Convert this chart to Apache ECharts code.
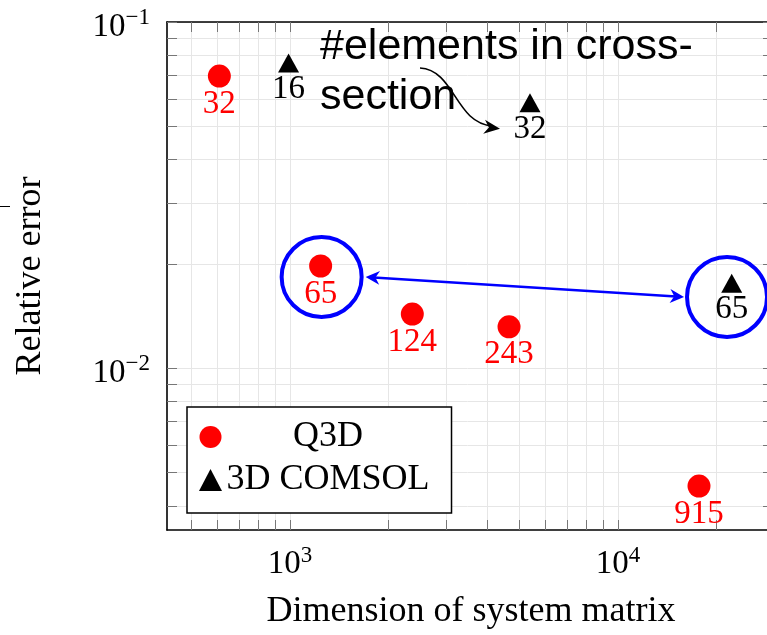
<!DOCTYPE html>
<html><head><meta charset="utf-8">
<script src="https://cdn.jsdelivr.net/npm/echarts@6/dist/echarts.min.js"></script>
<style>html,body{margin:0;padding:0;background:#fff}#c{width:767px;height:635px}</style>
</head><body><div id="c"></div>
<script>
// ---- data ----
const q3dX = [609, 1240, 2360, 4654, 17660];
const q3dY = [0.0698, 0.01972, 0.01432, 0.01316, 0.00456];
const q3dLabels = ['32', '65', '124', '243', '915'];
const comsolX = [990, 5391, 22220];
const comsolY = [0.0761, 0.0584, 0.01758];
const comsolLabels = ['16', '32', '65'];
const xTickValues = [500, 600, 700, 800, 900, 1000, 2000, 3000, 4000, 5000, 6000, 7000, 8000, 9000, 10000, 20000, 30000];
const xLabelValues = [1000, 10000];
const yTickValues = [0.004, 0.005, 0.006, 0.007, 0.008, 0.009, 0.01, 0.02, 0.03, 0.04, 0.05, 0.06, 0.07, 0.08, 0.09, 0.1];
const yLabelValues = [0.01, 0.1];
const seriesNames = ['Q3D', '3D COMSOL'];
const xTitle = 'Dimension of system matrix';
const yTitle = 'Relative error';
const noteLines = ['#elements in cross-', 'section'];
const xRange = [421.7, 30110];
const yRange = [0.003404, 0.1];

const SERIF = '"Liberation Serif", "Times New Roman", serif';
const SANS = '"Liberation Sans", Arial, sans-serif';

function powLabel(v) {
  const e = Math.round(Math.log10(v));
  return '{b|10}{s|' + (e < 0 ? '\u2212' + (-e) : e) + '}';
}
const powRich = {
  b: { fontFamily: SERIF, fontSize: 33, color: '#000', padding: [10, 0, 0, 0] },
  s: { fontFamily: SERIF, fontSize: 23, color: '#000', padding: [0, 0, 8, 0] }
};
const tickStyle = { color: '#777', width: 1 };
const axisLineStyle = { color: '#000', width: 1.6 };

const chart = echarts.init(document.getElementById('c'), null, { renderer: 'canvas' });

const option = {
  backgroundColor: '#fff',
  animation: false,
  grid: { left: 167, top: 22, width: 608, height: 508, containLabel: false, outerBoundsMode: 'none' },
  xAxis: [{
    type: 'log', min: xRange[0], max: xRange[1], position: 'bottom',
    axisLine: { show: true, onZero: false, lineStyle: axisLineStyle },
    axisTick: { show: true, inside: true, length: 10, customValues: xTickValues, lineStyle: tickStyle },
    minorTick: { show: false },
    splitLine: { show: true, lineStyle: { color: '#e6e6e6', width: 1 } },
    axisLabel: { customValues: xLabelValues, formatter: powLabel, rich: powRich, margin: 8 },
    name: xTitle, nameLocation: 'middle', nameGap: 64,
    nameTextStyle: { fontFamily: SERIF, fontSize: 36, color: '#000' }
  }, {
    type: 'log', min: xRange[0], max: xRange[1], position: 'top',
    axisLine: { show: true, onZero: false, lineStyle: axisLineStyle },
    axisTick: { show: true, inside: true, length: 10, customValues: xTickValues, lineStyle: tickStyle },
    splitLine: { show: false }, axisLabel: { show: false }
  }],
  yAxis: [{
    type: 'log', min: yRange[0], max: yRange[1], position: 'left',
    axisLine: { show: true, onZero: false, lineStyle: axisLineStyle },
    axisTick: { show: true, inside: true, length: 10, customValues: yTickValues, lineStyle: tickStyle },
    minorTick: { show: false },
    splitLine: { show: true, lineStyle: { color: '#e6e6e6', width: 1 } },
    axisLabel: { customValues: yLabelValues, formatter: powLabel, rich: powRich, margin: 17 },
    name: yTitle, nameLocation: 'middle', nameGap: 118, nameRotate: 90,
    nameTextStyle: { fontFamily: SERIF, fontSize: 36, color: '#000' }
  }, {
    type: 'log', min: yRange[0], max: yRange[1], position: 'right',
    axisLine: { show: true, onZero: false, lineStyle: axisLineStyle },
    axisTick: { show: true, inside: true, length: 12, customValues: yTickValues, lineStyle: tickStyle },
    splitLine: { show: false }, axisLabel: { show: false }
  }],
  legend: {
    orient: 'vertical', left: 187, top: 407,
    backgroundColor: '#fff', borderColor: '#000', borderWidth: 1.5, borderRadius: 0,
    padding: [12, 22, 15, 12], itemGap: 7, itemWidth: 23, itemHeight: 22,
    data: [{ name: seriesNames[0], icon: 'circle' }, { name: seriesNames[1], icon: 'triangle' }],
    formatter: n => '{t|' + n + '}',
    textStyle: { color: '#000', rich: { t: { width: 202, align: 'center', fontFamily: SERIF, fontSize: 36, lineHeight: 36, color: '#000' } } },
    selectedMode: false
  },
  series: [{
    name: seriesNames[0], type: 'scatter', xAxisIndex: 0, yAxisIndex: 0,
    symbol: 'circle', symbolSize: 23, itemStyle: { color: '#ff0000', opacity: 1 },
    data: q3dX.map((x, i) => [x, q3dY[i]]),
    label: { show: true, position: 'bottom', distance: 0, formatter: p => q3dLabels[p.dataIndex],
      fontFamily: SERIF, fontSize: 33, color: '#ff0000' },
    z: 5
  }, {
    name: seriesNames[1], type: 'scatter', xAxisIndex: 0, yAxisIndex: 0,
    symbol: 'triangle', symbolSize: [21, 19], itemStyle: { color: '#000', opacity: 1 },
    data: comsolX.map((x, i) => [x, comsolY[i]]),
    label: { show: true, position: 'bottom', distance: 0, formatter: p => comsolLabels[p.dataIndex],
      fontFamily: SERIF, fontSize: 33, color: '#000' },
    z: 5
  }]
};
chart.setOption(option);

// ---- annotations anchored on data points ----
const px = (x, y) => chart.convertToPixel({ xAxisIndex: 0, yAxisIndex: 0 }, [x, y]);
const pQ65 = px(q3dX[1], q3dY[1]);
const pC65 = px(comsolX[2], comsolY[2]);
const pC32 = px(comsolX[1], comsolY[1]);
const R = 40;
const cL = [pQ65[0] + 1, pQ65[1] + 11];
const cR = [pC65[0] - 4.7, pC65[1] + 13.7];
const tipL = [cL[0] + R + 4, cL[1]];
const tipR = [cR[0] - R - 3, cR[1]];

function head(tip, dir, len, half, color) {
  const n = Math.hypot(dir[0], dir[1]);
  const d = [dir[0] / n, dir[1] / n];
  const p = [-d[1], d[0]];
  const back = [tip[0] - d[0] * len, tip[1] - d[1] * len];
  const notch = [tip[0] - d[0] * len * 0.7, tip[1] - d[1] * len * 0.7];
  return {
    type: 'polygon', z: 20, silent: true,
    shape: { points: [tip, [back[0] + p[0] * half, back[1] + p[1] * half], notch, [back[0] - p[0] * half, back[1] - p[1] * half]] },
    style: { fill: color, stroke: null }
  };
}

const arrowTip = [pC32[0] - 30, pC32[1] + 26];
const c0 = [420, 68];
const c1 = [455, 70];
const c2 = [455, 123];

const graphics = [
  { type: 'circle', z: 20, silent: true, shape: { cx: cL[0], cy: cL[1], r: R }, style: { fill: null, stroke: '#0000ff', lineWidth: 4 } },
  { type: 'circle', z: 20, silent: true, shape: { cx: cR[0], cy: cR[1], r: R }, style: { fill: null, stroke: '#0000ff', lineWidth: 4 } },
  { type: 'line', z: 20, silent: true,
    shape: { x1: tipL[0] + 8, y1: tipL[1] + 0.5, x2: tipR[0] - 8, y2: tipR[1] - 0.5 },
    style: { stroke: '#0000ff', lineWidth: 2.5 } },
  head(tipL, [tipL[0] - tipR[0], tipL[1] - tipR[1]], 14, 7, '#0000ff'),
  head(tipR, [tipR[0] - tipL[0], tipR[1] - tipL[1]], 14, 7, '#0000ff'),
  { type: 'text', z: 20, silent: true, left: 320, top: 22,
    style: { text: noteLines.join('\n'), font: '43px ' + SANS, fill: '#000', lineHeight: 50 } },
  { type: 'bezierCurve', z: 20, silent: true,
    shape: { x1: c0[0], y1: c0[1], cpx1: c1[0], cpy1: c1[1], cpx2: c2[0], cpy2: c2[1], x2: arrowTip[0] - 8, y2: arrowTip[1] - 3 },
    style: { stroke: '#000', lineWidth: 1.6, fill: null } },
  head(arrowTip, [arrowTip[0] - c2[0], arrowTip[1] - c2[1]], 16, 7, '#000'),
  { type: 'line', z: 20, silent: true, shape: { x1: 0, y1: 206.5, x2: 10, y2: 206.5 }, style: { stroke: '#000', lineWidth: 1 } }
];
chart.setOption({ graphic: graphics });
</script>
</body></html>
